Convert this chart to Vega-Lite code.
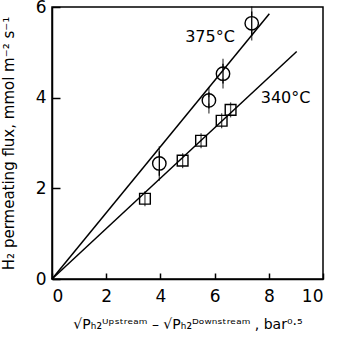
{
  "$schema": "https://vega.github.io/schema/vega-lite/v6.json",
  "width": 271,
  "height": 272,
  "autosize": "none",
  "padding": {"left": 52, "top": 7, "right": 23, "bottom": 59},
  "background": "white",
  "config": {
    "font": "DejaVu Sans",
    "view": {"stroke": "black", "strokeWidth": 1.5},
    "axis": {
      "grid": false,
      "domainColor": "black",
      "domainWidth": 1.5,
      "tickColor": "black",
      "tickWidth": 1.5,
      "labelColor": "black",
      "labelFontSize": 17,
      "labelFont": "DejaVu Sans",
      "titleColor": "black",
      "titleFont": "DejaVu Sans",
      "titleFontWeight": "normal",
      "titleFontSize": 15
    }
  },
  "datasets": {
    "lines": [
      {"series": "375", "x": 0, "y": 0},
      {"series": "375", "x": 8.02, "y": 5.85},
      {"series": "340", "x": 0, "y": 0},
      {"series": "340", "x": 9.03, "y": 5.02}
    ],
    "c375": [
      {"x": 3.96, "y": 2.55, "lo": 2.28, "hi": 2.82},
      {"x": 5.79, "y": 3.94, "lo": 3.76, "hi": 4.12},
      {"x": 6.31, "y": 4.53, "lo": 4.31, "hi": 4.75},
      {"x": 7.37, "y": 5.64, "lo": 5.37, "hi": 5.9}
    ],
    "s340": [
      {"x": 3.43, "y": 1.77},
      {"x": 4.82, "y": 2.61},
      {"x": 5.5, "y": 3.05},
      {"x": 6.26, "y": 3.49},
      {"x": 6.59, "y": 3.73}
    ],
    "labels": [
      {"x": 5.83, "y": 5.34, "text": "375°C"},
      {"x": 8.62, "y": 4.0, "text": "340°C"}
    ]
  },
  "encoding": {
    "x": {
      "field": "x", "type": "quantitative",
      "scale": {"domain": [0, 10], "nice": false, "zero": false},
      "axis": {"values": [0, 2, 4, 6, 8, 10], "tickSize": -6, "labelPadding": 15, "titlePadding": 13, "titleFontSize": 14,
        "title": "√Pₕ₂ᵁᵖˢᵗʳᵉᵃᵐ – √Pₕ₂ᴰᵒʷⁿˢᵗʳᵉᵃᵐ , bar⁰·⁵"}
    },
    "y": {
      "field": "y", "type": "quantitative",
      "scale": {"domain": [0, 6], "nice": false, "zero": false},
      "axis": {"values": [0, 2, 4, 6], "tickSize": -8, "labelPadding": 14, "titlePadding": 19,
        "title": "H₂ permeating flux, mmol m⁻² s⁻¹"}
    }
  },
  "layer": [
    {
      "data": {"name": "lines"},
      "mark": {"type": "line", "color": "black", "strokeWidth": 1.5},
      "encoding": {"detail": {"field": "series"}}
    },
    {
      "data": {"name": "c375"},
      "mark": {"type": "rule", "color": "black", "strokeWidth": 1.3},
      "encoding": {"y": {"field": "lo", "type": "quantitative"}, "y2": {"field": "hi"}}
    },
    {
      "data": {"name": "c375"},
      "mark": {"type": "tick", "color": "black", "thickness": 1.3, "size": 10},
      "encoding": {"y": {"field": "lo", "type": "quantitative"}}
    },
    {
      "data": {"name": "c375"},
      "mark": {"type": "tick", "color": "black", "thickness": 1.3, "size": 10},
      "encoding": {"y": {"field": "hi", "type": "quantitative"}}
    },
    {
      "data": {"name": "c375"},
      "mark": {"type": "point", "shape": "circle", "filled": false, "color": "black", "strokeWidth": 1.4, "size": 180, "opacity": 1}
    },
    {
      "data": {"name": "s340"},
      "mark": {"type": "tick", "color": "black", "thickness": 1.3, "size": 15}
    },
    {
      "data": {"name": "s340"},
      "mark": {"type": "point", "shape": "square", "filled": false, "color": "black", "strokeWidth": 1.4, "size": 115, "opacity": 1}
    },
    {
      "data": {"name": "labels"},
      "mark": {"type": "text", "fontSize": 16, "color": "black", "font": "DejaVu Sans"},
      "encoding": {"text": {"field": "text"}}
    }
  ]
}
